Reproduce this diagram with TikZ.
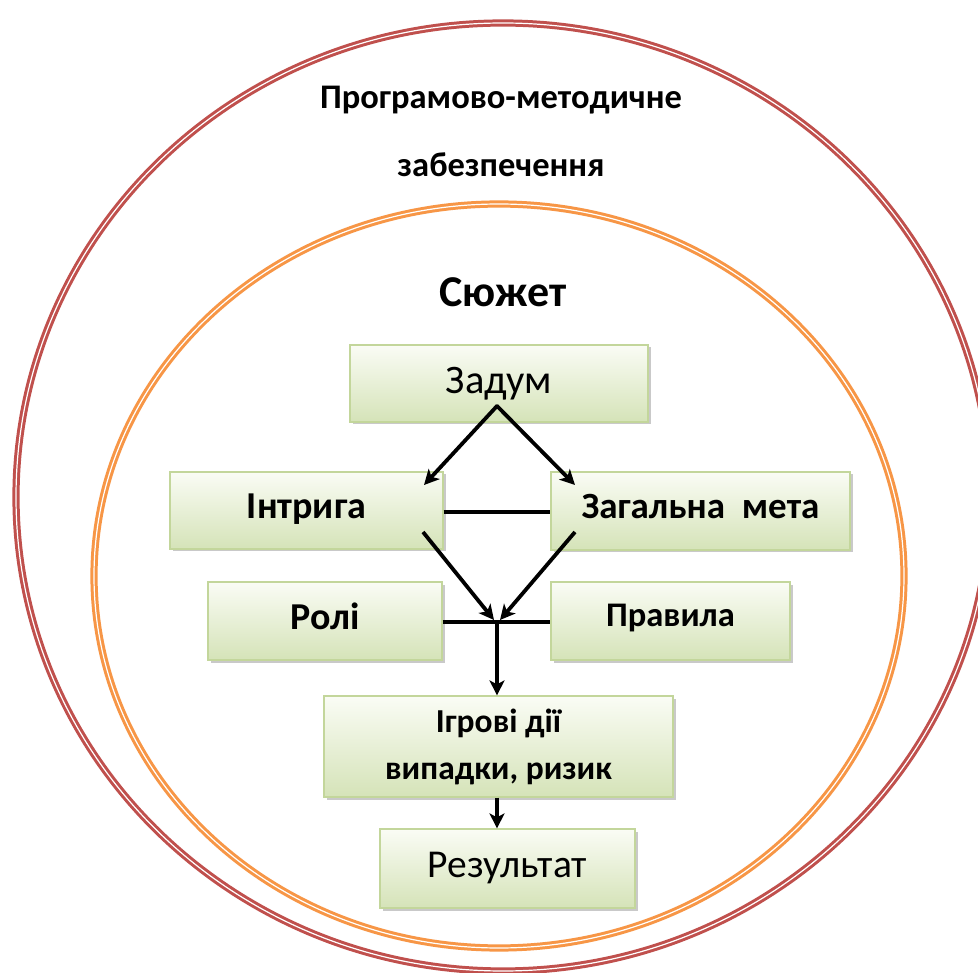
\documentclass[tikz,border=0pt]{standalone}
\usepackage{fontspec}
\setmainfont{Carlito}
\usetikzlibrary{arrows.meta,shadows}
\definecolor{outerred}{HTML}{C0504D}
\definecolor{innerorange}{HTML}{F79646}
\definecolor{boxtop}{HTML}{FAFCF5}
\definecolor{boxbot}{HTML}{D5E3B8}
\definecolor{boxline}{HTML}{C3D69B}
\tikzset{
  ring/.style={line width=3pt, double=white, double distance=1.2pt},
  gbox/.style={rectangle, draw=boxline, line width=1.2pt, top color=boxtop, bottom color=boxbot,
    drop shadow={shadow xshift=2.5pt, shadow yshift=-2.5pt, opacity=0.35, fill=black!60},
    align=center, inner sep=0pt},
  conn/.style={line width=3.8pt, black},
  arr/.style={conn, -{Stealth[length=15pt,width=15pt,inset=4pt]}},
  ttl/.style={font=\bfseries\fontsize{34.5}{40}\selectfont, inner sep=0pt},
}
\begin{document}
\begin{tikzpicture}[x=1pt,y=-1pt]
\useasboundingbox (0,0) rectangle (978,973);
\fill[white] (0,0) rectangle (978,973);
% rings
\draw[ring, draw=outerred] (503,497) ellipse [x radius=487, y radius=474];
\draw[ring, draw=innerorange] (499,576) ellipse [x radius=405, y radius=372];
% titles
\node[ttl] (prog1) at (501,100) {Програмово-методичне};
\node[ttl] (prog2) at (501,165) {забезпечення};
\node[font=\bfseries\fontsize{44}{50}\selectfont, inner sep=0pt] (sjuzhet) at (503,292) {Сюжет};
% boxes
\node[gbox, minimum width=298pt, minimum height=77pt, font=\fontsize{40.5}{46}\selectfont] (zadum) at (499,383.5) {\raisebox{3pt}{Задум}};
\node[gbox, minimum width=273pt, minimum height=77pt, font=\bfseries\fontsize{38}{44}\selectfont] (intryha) at (306.5,510.5) {\raisebox{8pt}{Інтрига}};
\node[gbox, minimum width=299pt, minimum height=78pt, font=\bfseries\fontsize{37}{44}\selectfont] (meta) at (700.5,511) {\raisebox{10pt}{Загальна\ \ мета}};
\node[gbox, minimum width=234pt, minimum height=78pt, font=\bfseries\fontsize{38}{44}\selectfont] (roli) at (325,621) {\raisebox{10pt}{Ролі}};
\node[gbox, minimum width=239pt, minimum height=78pt, font=\bfseries\fontsize{34.5}{40}\selectfont] (pravyla) at (670.5,621) {\raisebox{11pt}{Правила}};
\node[gbox, minimum width=349pt, minimum height=101pt, font=\bfseries\fontsize{33.5}{47}\selectfont] (dii) at (498.5,746.5) {Ігрові дії\\випадки, ризик};
\node[gbox, minimum width=255pt, minimum height=79pt, font=\fontsize{39.5}{46}\selectfont] (rez) at (507.5,868.5) {Результат};
% connector points
\coordinate (apex) at (497,406);
\coordinate (tipL) at (424,485);
\coordinate (tipR) at (575,485);
\coordinate (srcL) at (423,532);
\coordinate (srcR) at (575,532);
\coordinate (join) at (497,622);
\coordinate (joinL) at (494,620);
\coordinate (joinR) at (500,620);
\draw[arr, line cap=round] (apex) -- (tipL);
\draw[arr, line cap=round] (apex) -- (tipR);
\draw[conn] (intryha.east |- 0,512) -- (meta.west |- 0,512);
\draw[arr] (srcL) -- (joinL);
\draw[arr] (srcR) -- (joinR);
\draw[conn] (roli.east |- join) -- (pravyla.west |- join);
\draw[arr] (join) -- (join |- dii.north);
\draw[arr] (join |- dii.south) -- (join |- rez.north);
\end{tikzpicture}
\end{document}
